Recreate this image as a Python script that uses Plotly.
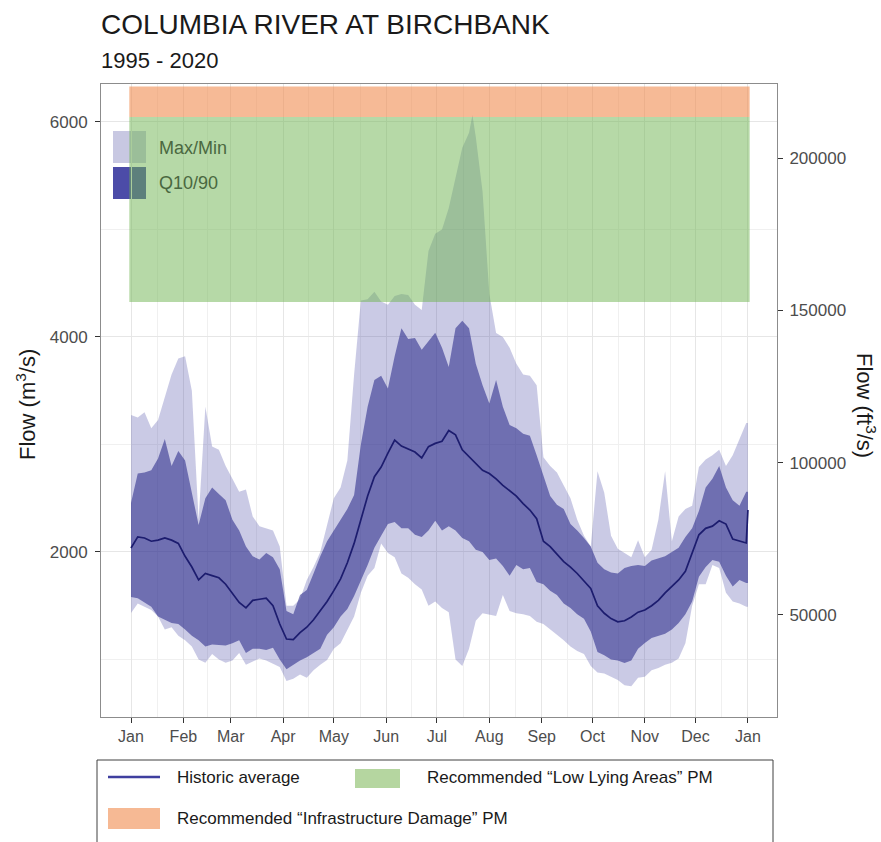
import plotly.graph_objects as go

# ---- Daily flow statistics, Columbia River at Birchbank (m3/s), 1995-2020 ----
DAYS = [1, 5, 9, 13, 17, 21, 25, 29, 33, 37, 41, 45, 49, 53, 57, 61, 65, 69, 73, 77,
        81, 85, 89, 93, 97, 101, 105, 109, 113, 117, 121, 125, 129, 133, 137, 141, 145,
        149, 153, 157, 161, 165, 169, 173, 177, 181, 185, 189, 193, 197, 201, 203, 205,
        209, 213, 217, 221, 225, 229, 233, 237, 241, 245, 249, 253, 257, 261, 265, 269,
        273, 277, 281, 285, 289, 293, 297, 301, 305, 309, 313, 317, 321, 325, 329, 333,
        337, 341, 345, 349, 353, 357, 361, 365, 366]

MEAN = [2037, 2140, 2130, 2100, 2110, 2130, 2110, 2080, 1960, 1860, 1740, 1800, 1780, 1760,
        1700, 1620, 1530, 1480, 1550, 1560, 1570, 1500, 1330, 1190, 1185, 1250, 1300, 1370,
        1450, 1540, 1640, 1750, 1900, 2080, 2300, 2520, 2700, 2790, 2920, 3040, 2985, 2960,
        2930, 2875, 2980, 3010, 3030, 3130, 3090, 2950, 2884, 2860, 2820, 2760, 2730, 2680,
        2620, 2570, 2520, 2450, 2390, 2310, 2100, 2050, 1980, 1910, 1860, 1800, 1730, 1660,
        1500, 1430, 1380, 1350, 1360, 1395, 1440, 1460, 1500, 1550, 1620, 1680, 1740, 1820,
        1990, 2160, 2220, 2240, 2290, 2260, 2120, 2100, 2084, 2391]

MAX_FLOW = [3274, 3250, 3300, 3150, 3228, 3450, 3650, 3800, 3820, 3500, 2300, 3350, 2980,
            2950, 2800, 2680, 2560, 2580, 2330, 2240, 2220, 2200, 2050, 1500, 1500, 1560,
            1740, 1860, 2000, 2260, 2500, 2600, 2850, 3650, 4340, 4350, 4420, 4330, 4300,
            4380, 4400, 4390, 4300, 4250, 4800, 4960, 5000, 5200, 5480, 5760, 5900, 6065,
            5860, 5350, 4400, 4037, 4000, 3900, 3750, 3650, 3640, 3550, 2880, 2800, 2740,
            2620, 2500, 2300, 2150, 2050, 2750, 2550, 2150, 2030, 1990, 1950, 2110, 1950,
            2020, 2300, 2750, 2100, 2330, 2400, 2430, 2790, 2860, 2900, 2950, 2800, 2900,
            3050, 3200, 3200]

MIN_FLOW = [1433, 1520, 1490, 1460, 1400, 1280, 1300, 1220, 1180, 1120, 1000, 970, 1050,
            1000, 970, 990, 1060, 950, 980, 1010, 990, 960, 930, 800, 820, 860, 830, 900,
            950, 995, 1100, 1150, 1270, 1400, 1620, 1780, 1850, 2080, 1990, 1950, 1800,
            1760, 1700, 1650, 1500, 1540, 1480, 1440, 1000, 940, 1100, 1230, 1360, 1430,
            1420, 1405, 1600, 1450, 1430, 1420, 1405, 1350, 1330, 1280, 1230, 1180, 1120,
            1080, 1050, 940, 880, 870, 840, 810, 760, 750, 830, 840, 900, 920, 950, 970,
            1010, 1150, 1500, 1700, 1700, 1880, 1850, 1620, 1540, 1520, 1490, 1490]

Q90 = [2456, 2730, 2740, 2760, 2870, 3050, 2800, 2940, 2850, 2550, 2250, 2500, 2600, 2540,
       2480, 2300, 2200, 2050, 1960, 1930, 1990, 1950, 1840, 1450, 1420, 1600, 1647, 1800,
       1960, 2100, 2200, 2300, 2400, 2530, 3000, 3350, 3600, 3640, 3520, 3820, 4080, 3980,
       3990, 3880, 3960, 4040, 3900, 3720, 4080, 4150, 4080, 3900, 3750, 3550, 3380, 3600,
       3350, 3180, 3150, 3100, 3080, 2900, 2700, 2520, 2440, 2400, 2260, 2200, 2130, 2050,
       1900, 1840, 1810, 1800, 1850, 1870, 1880, 1870, 1920, 1940, 1960, 2000, 2040, 2140,
       2220, 2380, 2600, 2680, 2800, 2600, 2480, 2430, 2560, 2560]

Q10 = [1581, 1570, 1530, 1490, 1400, 1370, 1340, 1330, 1280, 1220, 1180, 1120, 1140, 1135,
       1130, 1150, 1180, 1060, 1100, 1100, 1088, 1110, 1000, 910, 950, 990, 1020, 1060,
       1100, 1230, 1300, 1400, 1470, 1590, 1730, 1880, 2040, 2150, 2260, 2280, 2220, 2220,
       2160, 2140, 2200, 2290, 2200, 2240, 2200, 2130, 2100, 2060, 2020, 2000, 1926, 1940,
       1870, 1780, 1880, 1840, 1850, 1720, 1700, 1640, 1600, 1520, 1480, 1420, 1380, 1260,
       1070, 1040, 1000, 990, 967, 990, 1100, 1153, 1200, 1220, 1240, 1280, 1340, 1420,
       1540, 1770, 1860, 1926, 1910, 1780, 1680, 1740, 1712, 1712]

# Recommended planning thresholds (m3/s) and the span of days they cover
LOW_LYING = [4325, 6045]
INFRA_DAMAGE = [6045, 6330]
BAND_DAYS = [0, 367]

MONTH_DAYS = [1, 32, 60, 91, 121, 152, 182, 213, 244, 274, 305, 335, 366]
MONTH_LABELS = ["Jan", "Feb", "Mar", "Apr", "May", "Jun", "Jul", "Aug", "Sep", "Oct",
                "Nov", "Dec", "Jan"]
RIGHT_TICKS = [50000, 100000, 150000, 200000]
M3_TO_FT3 = 35.3147

X_RANGE = [-16.75, 383.2]
Y_RANGE = [465, 6353]

FONT = "Liberation Sans, Arial, sans-serif"
LIGHT = "rgba(80,80,170,0.30)"
DARK = "rgba(45,45,140,0.58)"
GREEN = "rgba(110,180,80,0.50)"
ORANGE = "rgba(240,140,80,0.60)"

# pixel layout of the figure
W, H = 881, 842
PL, PR, PT, PB = 101, 777, 84, 717


def px(x):
    return (x - PL) / (PR - PL)


def py(y):
    return (PB - y) / (PB - PT)


fig = go.Figure()

# Max/Min envelope
fig.add_trace(go.Scatter(
    x=DAYS + DAYS[::-1], y=MAX_FLOW + MIN_FLOW[::-1], fill="toself",
    fillcolor=LIGHT, line=dict(width=0), mode="lines", hoverinfo="skip",
    showlegend=False))
# 10th - 90th percentile envelope
fig.add_trace(go.Scatter(
    x=DAYS + DAYS[::-1], y=Q90 + Q10[::-1], fill="toself",
    fillcolor=DARK, line=dict(width=0), mode="lines", hoverinfo="skip",
    showlegend=False))
# historic average
fig.add_trace(go.Scatter(
    x=DAYS, y=MEAN, mode="lines", line=dict(color="#1c1c6e", width=1.7),
    showlegend=False))


# threshold bands
def band(lo, hi, color):
    return go.Scatter(
        x=[BAND_DAYS[0], BAND_DAYS[1], BAND_DAYS[1], BAND_DAYS[0], BAND_DAYS[0]],
        y=[lo, lo, hi, hi, lo], fill="toself", fillcolor=color,
        line=dict(width=0), mode="lines", hoverinfo="skip", showlegend=False)


fig.add_trace(band(LOW_LYING[0], LOW_LYING[1], GREEN))
fig.add_trace(band(INFRA_DAMAGE[0], INFRA_DAMAGE[1], ORANGE))

# secondary axis in ft3/s
fig.add_trace(go.Scatter(
    x=DAYS, y=[v * M3_TO_FT3 for v in MEAN], yaxis="y2", mode="lines",
    line=dict(width=0), opacity=0, hoverinfo="skip", showlegend=False))

minor_days = [(MONTH_DAYS[i] + MONTH_DAYS[i + 1]) / 2 for i in range(len(MONTH_DAYS) - 1)]

fig.update_layout(
    width=W, height=H,
    margin=dict(l=PL, r=W - PR, t=PT, b=H - PB),
    paper_bgcolor="white", plot_bgcolor="rgba(0,0,0,0)",
    font=dict(family=FONT, color="#4d4d4d", size=16),
    xaxis=dict(
        range=X_RANGE, tickmode="array", tickvals=MONTH_DAYS, ticktext=MONTH_LABELS,
        showgrid=True, gridcolor="#e6e6e6", gridwidth=1,
        minor=dict(tickvals=minor_days, showgrid=True, gridcolor="#f0f0f0", gridwidth=1),
        ticks="outside", ticklen=5, tickcolor="#333333",
        showline=True, linecolor="#8c8c8c", linewidth=1, mirror=True,
        zeroline=False, tickfont=dict(size=16, color="#4d4d4d")),
    yaxis=dict(
        range=Y_RANGE, tickmode="array", tickvals=[2000, 4000, 6000],
        showgrid=True, gridcolor="#e6e6e6", gridwidth=1,
        minor=dict(tickvals=[1000, 3000, 5000], showgrid=True, gridcolor="#f0f0f0",
                   gridwidth=1),
        ticks="outside", ticklen=5, tickcolor="#333333", ticklabelstandoff=4,
        showline=True, linecolor="#8c8c8c", linewidth=1, mirror=True,
        zeroline=False, tickfont=dict(size=17, color="#4d4d4d")),
    yaxis2=dict(
        overlaying="y", side="right",
        range=[Y_RANGE[0] * M3_TO_FT3, Y_RANGE[1] * M3_TO_FT3],
        tickmode="array", tickvals=RIGHT_TICKS,
        ticktext=[str(v) for v in RIGHT_TICKS], showgrid=False, zeroline=False,
        ticks="outside", ticklen=5, tickcolor="#333333", ticklabelstandoff=3,
        tickfont=dict(size=17, color="#4d4d4d")),
)

annotations = [
    dict(text="COLUMBIA RIVER AT BIRCHBANK", x=px(99), y=py(25), xanchor="left",
         yanchor="middle", font=dict(size=28, color="#1a1a1a")),
    dict(text="1995 - 2020", x=px(99), y=py(60), xanchor="left", yanchor="middle",
         font=dict(size=22, color="#1a1a1a")),
    dict(text="Flow (m<sup>3</sup>/s)", x=px(26), y=py(405), textangle=-90,
         xanchor="center", yanchor="middle", font=dict(size=22, color="#1a1a1a")),
    dict(text="Flow (ft<sup>3</sup>/s)", x=px(866), y=py(405), textangle=90,
         xanchor="center", yanchor="middle", font=dict(size=22, color="#1a1a1a")),
    # inside key (sits under the translucent green band)
    dict(text="Max/Min", x=px(157), y=py(148), xanchor="left", yanchor="middle",
         font=dict(size=18, color="#4a6840")),
    dict(text="Q10/90", x=px(157), y=py(183), xanchor="left", yanchor="middle",
         font=dict(size=18, color="#4a6840")),
    # bottom key
    dict(text="Historic average", x=px(175), y=py(777), xanchor="left",
         yanchor="middle", font=dict(size=17, color="#1a1a1a")),
    dict(text="Recommended \u201cLow Lying Areas\u201d PM", x=px(425), y=py(777),
         xanchor="left", yanchor="middle", font=dict(size=17, color="#1a1a1a")),
    dict(text="Recommended \u201cInfrastructure Damage\u201d PM", x=px(175), y=py(818),
         xanchor="left", yanchor="middle", font=dict(size=17, color="#1a1a1a")),
]
for a in annotations:
    a.update(xref="paper", yref="paper", showarrow=False)
fig.update_layout(annotations=annotations)

shapes = [
    # inside key swatches, drawn beneath the data layer
    dict(type="rect", xref="paper", yref="paper", layer="below",
         x0=px(113), x1=px(146), y0=py(163), y1=py(131),
         fillcolor="#c8c8e2", line=dict(width=0)),
    dict(type="rect", xref="paper", yref="paper", layer="below",
         x0=px(113), x1=px(146), y0=py(199), y1=py(167),
         fillcolor="#4c4ca8", line=dict(width=0)),
    # bottom key frame and symbols
    dict(type="rect", xref="paper", yref="paper", layer="above",
         x0=px(97), x1=px(773), y0=py(850), y1=py(760),
         fillcolor="rgba(0,0,0,0)", line=dict(color="#404040", width=1)),
    dict(type="line", xref="paper", yref="paper", layer="above",
         x0=px(108), x1=px(160), y0=py(777), y1=py(777),
         line=dict(color="#3f3f9f", width=2.5)),
    dict(type="rect", xref="paper", yref="paper", layer="above",
         x0=px(355), x1=px(400), y0=py(788), y1=py(769),
         fillcolor="#b5d6a0", line=dict(width=0)),
    dict(type="rect", xref="paper", yref="paper", layer="above",
         x0=px(108), x1=px(160), y0=py(829), y1=py(808),
         fillcolor="#f6b994", line=dict(width=0)),
]
fig.update_layout(shapes=shapes)

fig.write_html("out.html")
